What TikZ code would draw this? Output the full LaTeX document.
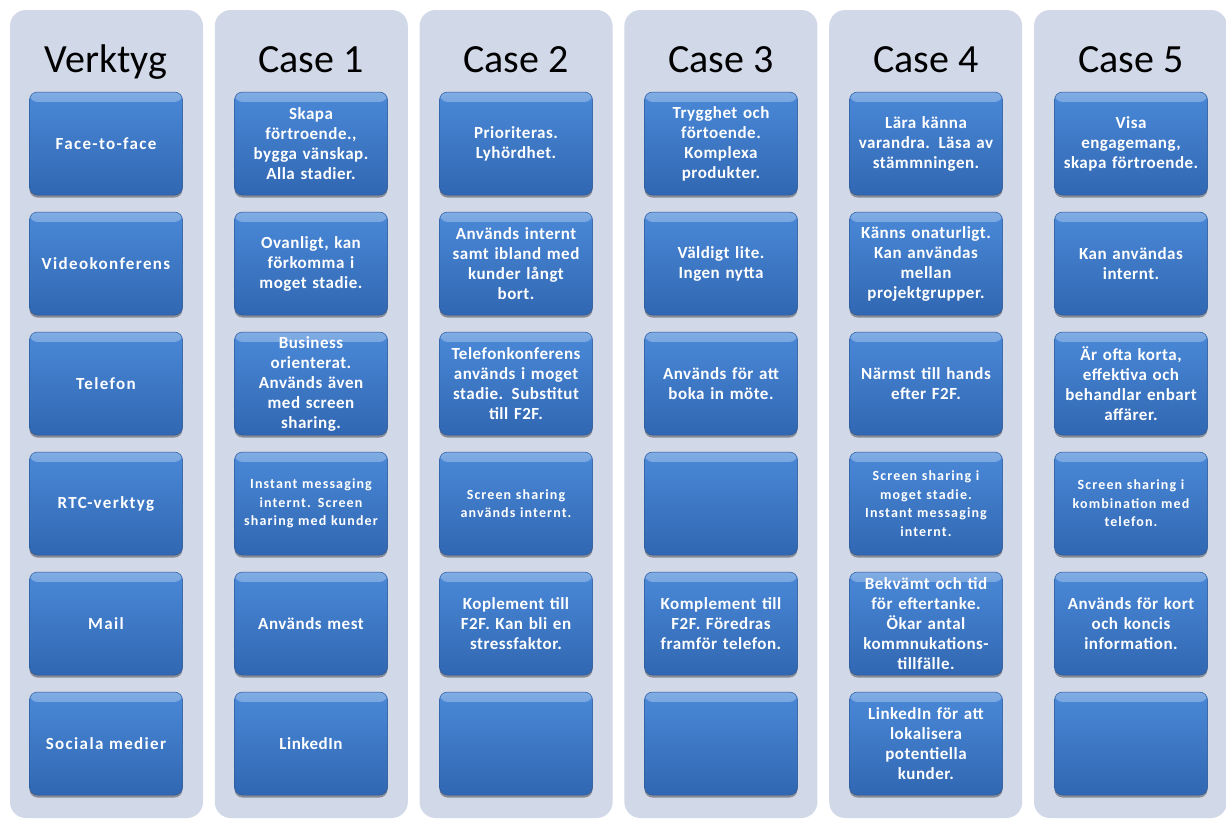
\documentclass[tikz,border=0pt]{standalone}
\usepackage{fontspec}
\setmainfont{Carlito}
\newfontfamily\cellfont[LetterSpace=3]{Carlito}
\newfontfamily\widefont[LetterSpace=8]{Carlito}
\usetikzlibrary{shadows,fadings}

\definecolor{panelbg}{RGB}{209,216,232}
\definecolor{boxtop}{RGB}{74,137,216}
\definecolor{boxbot}{RGB}{49,103,178}
\definecolor{boxedge}{RGB}{42,88,155}

\tikzset{
  panel/.style={fill=panelbg, rounded corners=16pt},
  head/.style={anchor=base, text=black, font=\fontsize{40}{44}\selectfont},
  cell/.style={minimum width=153pt, minimum height=103pt, text width=150pt,
    inner sep=0pt, rounded corners=8pt, align=center, text=white,
    top color=boxtop, bottom color=boxbot, draw=boxedge, line width=0.5pt,
    font=\cellfont\bfseries\fontsize{17}{20}\selectfont,
    drop shadow={shadow xshift=0pt, shadow yshift=-2.5pt, opacity=0.35, fill=black},
    path picture={\fill[white, fill opacity=0.3, path fading=south]
      (path picture bounding box.north west) rectangle
      ([yshift=-10pt]path picture bounding box.north east);}},
  wide/.style={font=\widefont\bfseries\fontsize{14}{18.5}\selectfont},
  tool/.style={font=\widefont\bfseries\fontsize{17}{20}\selectfont}
}

\begin{document}
\begin{tikzpicture}[x=1pt, y=-1pt]
\useasboundingbox[fill=white] (0,0) rectangle (1226,825);

% column panels
\foreach \i in {0,...,5}{
  \pgfmathsetmacro{\cx}{106.5+204.8*\i}
  \fill[panel] (\cx-96.5,10) rectangle (\cx+96.5,818);
}

% column headings
\node[head] (h0) at (106,72) {Verktyg};
\node[head] (h1) at (311,72) {Case 1};
\node[head] (h2) at (516,72) {Case 2};
\node[head] (h3) at (721,72) {Case 3};
\node[head] (h4) at (926,72) {Case 4};
\node[head] (h5) at (1131,72) {Case 5};

% tools
\node[cell, tool] (t1) at (106,143.5) {Face-to-face};
\node[cell, tool] (t2) at (106,263.5) {Videokonferens};
\node[cell, tool] (t3) at (106,383.5) {Telefon};
\node[cell, tool] (t4) at (106,503.5) {RTC-verktyg};
\node[cell, tool] (t5) at (106,623.5) {Mail};
\node[cell, tool] (t6) at (106,743.5) {Sociala medier};

% case 1
\node[cell] (a1) at (311,143.5) {Skapa\\förtroende.,\\bygga vänskap.\\Alla stadier.};
\node[cell] (a2) at (311,263.5) {Ovanligt, kan\\förkomma i\\moget stadie.};
\node[cell] (a3) at (311,383.5) {Business\\orienterat.\\Används även\\med screen\\sharing.};
\node[cell, wide] (a4) at (311,503.5) {Instant messaging\\internt. Screen\\sharing med kunder};
\node[cell] (a5) at (311,623.5) {Används mest};
\node[cell] (a6) at (311,743.5) {LinkedIn};

% case 2
\node[cell] (b1) at (516,143.5) {Prioriteras.\\Lyhördhet.};
\node[cell] (b2) at (516,263.5) {Används internt\\samt ibland med\\kunder långt\\bort.};
\node[cell] (b3) at (516,383.5) {Telefonkonferens\\används i moget\\stadie. Substitut\\till F2F.};
\node[cell, wide] (b4) at (516,503.5) {Screen sharing\\används internt.};
\node[cell] (b5) at (516,623.5) {Koplement till\\F2F. Kan bli en\\stressfaktor.};
\node[cell] (b6) at (516,743.5) {};

% case 3
\node[cell] (c1) at (721,143.5) {Trygghet och\\förtoende.\\Komplexa\\produkter.};
\node[cell] (c2) at (721,263.5) {Väldigt lite.\\Ingen nytta};
\node[cell] (c3) at (721,383.5) {Används för att\\boka in möte.};
\node[cell] (c4) at (721,503.5) {};
\node[cell] (c5) at (721,623.5) {Komplement till\\F2F. Föredras\\framför telefon.};
\node[cell] (c6) at (721,743.5) {};

% case 4
\node[cell] (d1) at (926,143.5) {Lära känna\\varandra. Läsa av\\stämmningen.};
\node[cell] (d2) at (926,263.5) {Känns onaturligt.\\Kan användas\\mellan\\projektgrupper.};
\node[cell] (d3) at (926,383.5) {Närmst till hands\\efter F2F.};
\node[cell, wide] (d4) at (926,503.5) {Screen sharing i\\moget stadie.\\Instant messaging\\internt.};
\node[cell] (d5) at (926,623.5) {Bekvämt och tid\\för eftertanke.\\Ökar antal\\kommnukations-\\tillfälle.};
\node[cell] (d6) at (926,743.5) {LinkedIn för att\\lokalisera\\potentiella\\kunder.};

% case 5
\node[cell] (e1) at (1131,143.5) {Visa\\engagemang,\\skapa förtroende.};
\node[cell] (e2) at (1131,263.5) {Kan användas\\internt.};
\node[cell] (e3) at (1131,383.5) {Är ofta korta,\\effektiva och\\behandlar enbart\\affärer.};
\node[cell, wide] (e4) at (1131,503.5) {Screen sharing i\\kombination med\\telefon.};
\node[cell] (e5) at (1131,623.5) {Används för kort\\och koncis\\information.};
\node[cell] (e6) at (1131,743.5) {};
\end{tikzpicture}
\end{document}
